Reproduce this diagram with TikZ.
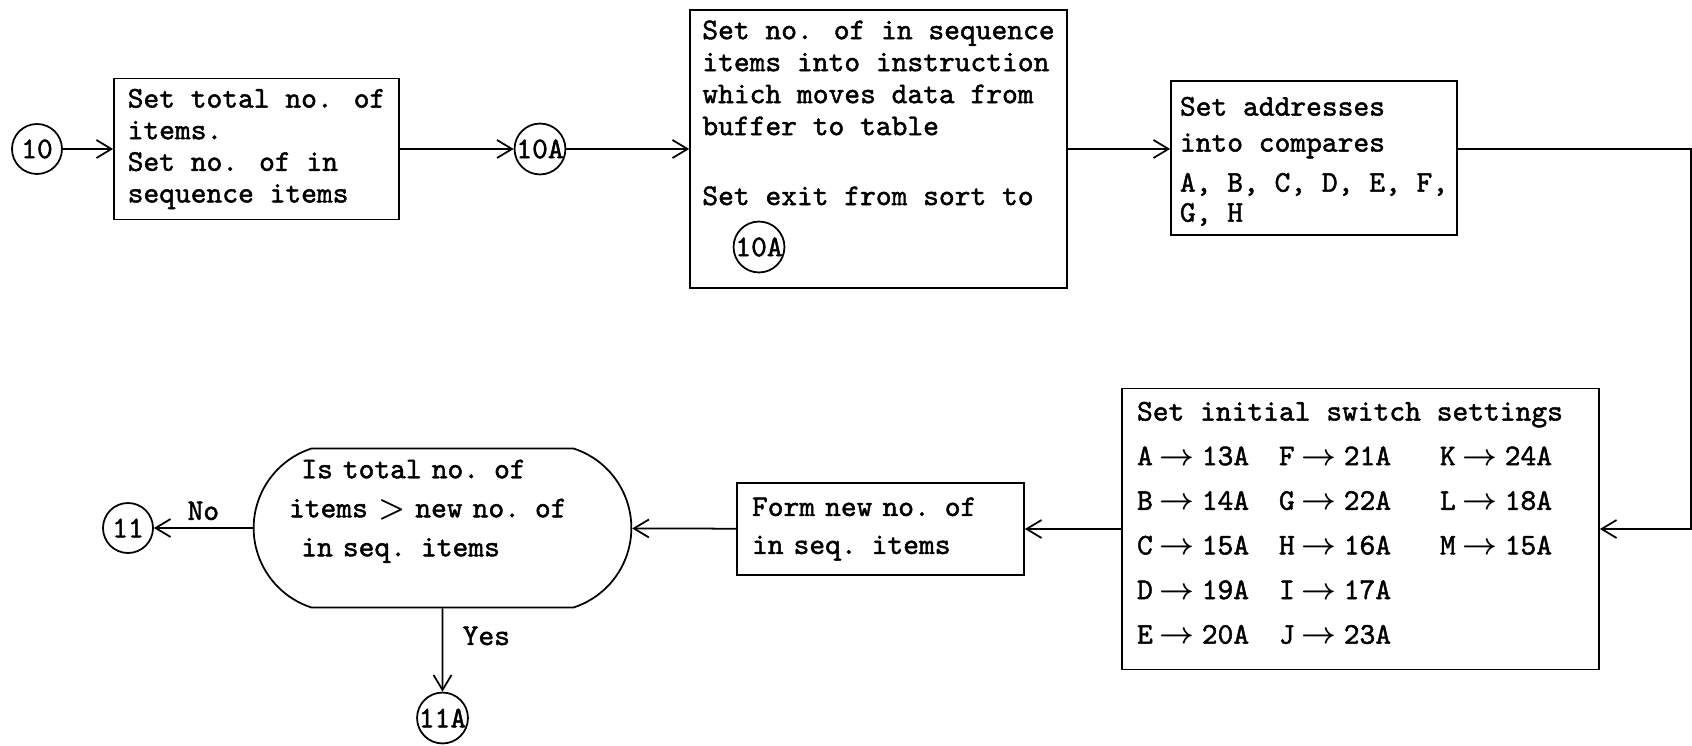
\documentclass[tikz,border=0pt]{standalone}
\usepackage{fontspec}
\newfontfamily\tw{lmmono10-regular.otf}[FakeBold=1.5]
\newcommand{\twsize}[1]{\tw\fontsize{17.1pt}{#1}\selectfont}
\newcommand{\swset}[2]{#1\kern4pt{\boldmath\(\rightarrow\)}\kern4pt#2}
\usetikzlibrary{shapes.misc,arrows.meta,calc}

\begin{document}
\begin{tikzpicture}[
  x=0.02cm, y=-0.02cm,
  box/.style={rectangle, draw, line width=1pt, align=left, inner sep=0pt},
  conn/.style={circle, draw, line width=1pt, inner sep=0pt, minimum size=1cm, font=\twsize{18pt}},
  decision/.style={rounded rectangle, rounded rectangle arc length=144, draw, line width=1pt, align=left, inner sep=0pt},
  arrow/.style={-{Straight Barb[length=3mm, width=3.6mm]}, line width=1pt},
  edgelbl/.style={font=\twsize{18pt}, inner sep=1pt},
]
\useasboundingbox (0,0) rectangle (1692,746);

% === TOP ROW: SET UP COUNTS AND ADDRESSES ===
\node[conn] (c10) at (37,149) {10};
\node[box, font=\twsize{18pt}, minimum width=5.7cm, minimum height=2.82cm] (settot) at (256.5,149) {Set total no. of\\items.\\Set no. of in\\sequence items};
\node[conn] (c10a) at (540,149) {10A};
\node[box, font=\twsize{18.2pt}, minimum width=7.54cm, minimum height=5.56cm] (seqins) at (878.5,149)
  {Set no. of in sequence\\items into instruction\\which moves data from\\buffer to table\\[21.6pt]Set exit from sort to\rule[-1.45cm]{0pt}{1.45cm}};
\node[conn] (exit) at (759,247) {10A};
\node[box, font=\twsize{20.5pt}, minimum width=5.72cm, minimum height=3.08cm] (addr) at (1314,158)
  {\rule{0pt}{0.51cm}Set addresses\\into compares\\[2.3pt]A, B, C, D, E, F,\\[-3.4pt]G, H};

% === BOTTOM ROW: SWITCHES AND TEST ===
\coordinate (ne) at (1691,149);
\coordinate (se) at (1691,529);
\node[box, font=\twsize{25.4pt}, minimum width=9.54cm, minimum height=5.62cm] (switch) at (1360.5,529)
  {\begin{tabular}{@{}p{2.84cm}@{}p{3.22cm}@{}p{2.88cm}@{}}
  \multicolumn{3}{@{}l@{}}{Set initial switch settings}\\
  \swset{A}{13A} & \swset{F}{21A} & \swset{K}{24A}\\
  \swset{B}{14A} & \swset{G}{22A} & \swset{L}{18A}\\
  \swset{C}{15A} & \swset{H}{16A} & \swset{M}{15A}\\
  \swset{D}{19A} & \swset{I}{17A} & \\
  \swset{E}{20A} & \swset{J}{23A} & \rule[-0.5cm]{0pt}{0.1pt}
  \end{tabular}};
\node[box, font=\twsize{21.6pt}, text width=5.14cm, minimum width=5.74cm, minimum height=1.84cm] (formnew) at (880.5,529) {Form new no. of\\in seq. items};
\node[decision, font=\twsize{22.2pt}, text width=6.14cm, minimum width=7.5cm, minimum height=3.18cm] (total) at (442.5,528)
  {\hspace*{7pt}Is total no. of\\items\makebox[27pt]{\boldmath\(>\)}new no. of\\\hspace*{7pt}in seq. items\rule[-0.8cm]{0pt}{0.8cm}};
\node[conn] (c11) at (128,528) {11};
\node[conn] (c11a) at (442.5,718) {11A};

\draw[arrow] (c10) -- (settot);
\draw[arrow] (settot) -- (c10a);
\draw[arrow] (c10a) -- (seqins);
\draw[arrow] (seqins.east) -- (seqins.east -| addr.west);
\draw[arrow] (addr.east |- ne) -- (ne) -- (se) -- (switch.east |- se);
\draw[arrow] (switch) -- (formnew);
\draw[arrow] (formnew) -- (total);
\draw[arrow] (total) -- node[edgelbl, above=3pt] (no) {No} (c11);
\draw[arrow] (total) -- node[edgelbl, right=0.35cm, pos=0.33] (yes) {Yes} (c11a);
\end{tikzpicture}
\end{document}
